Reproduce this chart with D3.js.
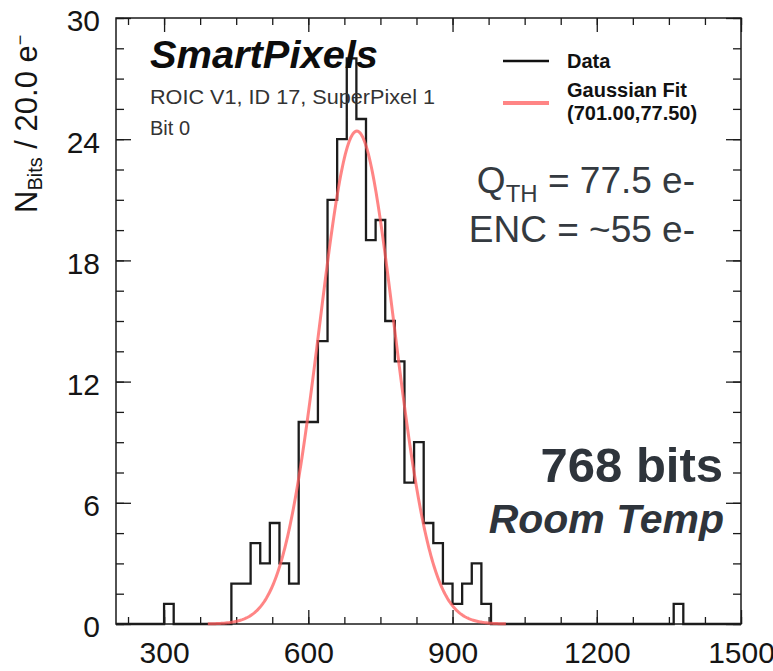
<!DOCTYPE html>
<html>
<head>
<meta charset="utf-8">
<title>SmartPixels bit threshold</title>
<style>
body { margin: 0; background: #ffffff; }
#chart svg { display: block; }
text { font-family: 'Liberation Sans', Arial, Helvetica, sans-serif; }
.axis path { display: none; }
.axis line { stroke: #1a1a1a; stroke-width: 1.3; }
.axis text { font-family: 'Liberation Sans', Arial, sans-serif; font-size: 30px; fill: #151515; }
</style>
<script src="https://cdn.jsdelivr.net/npm/d3@7"></script>
</head>
<body>
<div id="chart"></div>
<script>
// threshold histogram, 20 e- bins (bins not listed are empty)
var bin_low   = [300, 440, 460, 480, 500, 520, 540, 560, 580, 600, 620, 640, 660, 680, 700,
                 720, 740, 760, 780, 800, 820, 840, 860, 880, 900, 920, 940, 960, 1360];
var bin_count = [1, 2, 2, 4, 3, 5, 3, 2, 10, 10, 14, 21, 24, 28, 25,
                 19, 20, 15, 13, 7, 9, 5, 4, 2, 1, 2, 3, 1, 1];
var bin_width = 20;

// gaussian fit shown in the legend (mean, sigma) and its drawn peak / range
var fit_mean  = 701.0;
var fit_sigma = 77.5;
var fit_peak  = 24.4;
var fit_range = [391, 1011];

var x_domain = [200, 1500];
var y_domain = [0, 30];
var x_tick_labels = [300, 600, 900, 1200, 1500];
var y_tick_labels = [0, 6, 12, 18, 24, 30];

var legend_labels = ["Data", "Gaussian Fit", "(701.00,77.50)"];

var margin = { top: 18, right: 32, bottom: 47, left: 116 };
var width = 773 - margin.left - margin.right;
var height = 671 - margin.top - margin.bottom;

var svg = d3.select("#chart")
            .append("svg")
            .attr("width", 773)
            .attr("height", 671);

svg.append("rect")
   .attr("width", 773)
   .attr("height", 671)
   .attr("fill", "#ffffff");

var chart = svg.append("g")
               .attr("transform", "translate(" + margin.left + "," + margin.top + ")");

var scale_x = d3.scaleLinear().domain(x_domain).range([0, width]);
var scale_y = d3.scaleLinear().domain(y_domain).range([height, 0]);

var x_minor = d3.range(225, 1501, 75);
var y_minor = d3.range(0, 30.01, 1.5);
var fmt_int = d3.format("d");

// inward ticks on all four sides, ROOT style
chart.append("g").attr("class", "axis")
     .attr("transform", "translate(0," + height + ")")
     .call(d3.axisBottom(scale_x).tickValues(x_minor).tickSize(-7).tickFormat(""));
chart.append("g").attr("class", "axis")
     .attr("transform", "translate(0," + height + ")")
     .call(d3.axisBottom(scale_x).tickValues(x_tick_labels).tickSize(-14).tickPadding(18).tickFormat(fmt_int))
     .selectAll("text")
     .attr("dy", "0.71em");
chart.append("g").attr("class", "axis")
     .call(d3.axisTop(scale_x).tickValues(x_minor).tickSize(-7).tickFormat(""));
chart.append("g").attr("class", "axis")
     .call(d3.axisTop(scale_x).tickValues(x_tick_labels).tickSize(-14).tickFormat(""));

chart.append("g").attr("class", "axis")
     .call(d3.axisLeft(scale_y).tickValues(y_minor).tickSize(-8).tickFormat(""));
chart.append("g").attr("class", "axis")
     .call(d3.axisLeft(scale_y).tickValues(y_tick_labels).tickSize(-15).tickPadding(16).tickFormat(fmt_int))
     .selectAll("text")
     .attr("dy", "0.43em");
chart.append("g").attr("class", "axis")
     .attr("transform", "translate(" + width + ",0)")
     .call(d3.axisRight(scale_y).tickValues(y_minor).tickSize(-8).tickFormat(""));
chart.append("g").attr("class", "axis")
     .attr("transform", "translate(" + width + ",0)")
     .call(d3.axisRight(scale_y).tickValues(y_tick_labels).tickSize(-15).tickFormat(""));

chart.append("rect")
     .attr("width", width)
     .attr("height", height)
     .attr("fill", "none")
     .attr("stroke", "#1a1a1a")
     .attr("stroke-width", 1.5);

// histogram outline
var counts = new Map(bin_low.map(function(d, i) { return([d, bin_count[i]]); }));
var bins = d3.range(x_domain[0], x_domain[1], bin_width).map(function(lo) {
  return({ lo: lo, n: counts.get(lo) || 0 });
});
bins.push({ lo: x_domain[1], n: bins[bins.length - 1].n });

var hist_line = d3.line()
                  .curve(d3.curveStepAfter)
                  .x(function(d) { return(scale_x(d.lo)); })
                  .y(function(d) { return(scale_y(d.n)); });

chart.append("path")
     .datum(bins)
     .attr("d", hist_line)
     .attr("fill", "none")
     .attr("stroke", "#1c1c1c")
     .attr("stroke-width", 2.3);

// gaussian fit
var gauss = function(v) {
  return(fit_peak * Math.exp(-Math.pow(v - fit_mean, 2) / (2 * fit_sigma * fit_sigma)));
};
var fit_pts = d3.range(fit_range[0], fit_range[1] + 0.1, 2).map(function(v) {
  return({ v: v, n: gauss(v) });
});

chart.append("path")
     .datum(fit_pts)
     .attr("d", d3.line()
                  .x(function(d) { return(scale_x(d.v)); })
                  .y(function(d) { return(scale_y(d.n)); }))
     .attr("fill", "none")
     .attr("stroke", "#ff5c5c")
     .attr("stroke-opacity", 0.75)
     .attr("stroke-width", 3);

// y axis title
var y_title = svg.append("text")
                 .attr("transform", "translate(37,213) rotate(-90)")
                 .attr("font-size", 31)
                 .attr("fill", "#151515");
y_title.append("tspan").text("N");
y_title.append("tspan").attr("font-size", 20).attr("dy", 5).text("Bits");
y_title.append("tspan").attr("dy", -5).text(" / 20.0 e");
y_title.append("tspan").attr("font-size", 18).attr("dy", -11).text("\u2212");

// labels in the top left
svg.append("text")
   .attr("x", 150).attr("y", 68)
   .attr("font-size", 38)
   .attr("font-weight", "bold")
   .attr("font-style", "italic")
   .attr("textLength", 228)
   .attr("lengthAdjust", "spacingAndGlyphs")
   .attr("fill", "#0d0d0d")
   .text("SmartPixels");
svg.append("text")
   .attr("x", 150).attr("y", 104)
   .attr("font-size", 20)
   .attr("textLength", 285)
   .attr("lengthAdjust", "spacingAndGlyphs")
   .attr("fill", "#333333")
   .text("ROIC V1, ID 17, SuperPixel 1");
svg.append("text")
   .attr("x", 150).attr("y", 135)
   .attr("font-size", 20)
   .attr("fill", "#333333")
   .text("Bit 0");

// legend
var legend = svg.append("g");
legend.append("line")
      .attr("x1", 503).attr("x2", 549).attr("y1", 61).attr("y2", 61)
      .attr("stroke", "#111111").attr("stroke-width", 2.3);
legend.append("line")
      .attr("x1", 503).attr("x2", 549).attr("y1", 103).attr("y2", 103)
      .attr("stroke", "#ff5c5c").attr("stroke-opacity", 0.75).attr("stroke-width", 4);
legend.selectAll(".legend_text")
      .data(legend_labels)
      .enter()
      .append("text")
      .attr("x", 567)
      .attr("y", function(d, i) { return([68, 97, 120][i]); })
      .attr("font-size", 20)
      .attr("font-weight", "bold")
      .attr("fill", "#111111")
      .text(function(d) { return(d); });

// annotations
var qth = svg.append("text")
             .attr("x", 695).attr("y", 193)
             .attr("text-anchor", "end")
             .attr("font-size", 37)
             .attr("fill", "#343a40");
qth.append("tspan").text("Q");
qth.append("tspan").attr("font-size", 24).attr("dy", 9).text("TH");
qth.append("tspan").attr("dy", -9).text(" = 77.5 e-");

svg.append("text")
   .attr("x", 695).attr("y", 242)
   .attr("text-anchor", "end")
   .attr("font-size", 37)
   .attr("fill", "#343a40")
   .text("ENC = ~55 e-");

svg.append("text")
   .attr("x", 723).attr("y", 482)
   .attr("text-anchor", "end")
   .attr("font-size", 49)
   .attr("font-weight", "bold")
   .attr("fill", "#2e343b")
   .text("768 bits");

svg.append("text")
   .attr("x", 724).attr("y", 533)
   .attr("text-anchor", "end")
   .attr("font-size", 41)
   .attr("font-weight", "bold")
   .attr("font-style", "italic")
   .attr("fill", "#2e343b")
   .text("Room Temp");
</script>
</body>
</html>
